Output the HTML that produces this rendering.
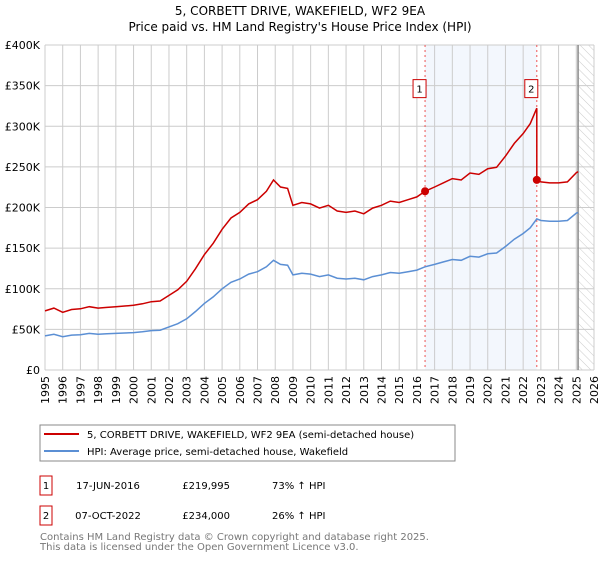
<!DOCTYPE html>
<html><head><meta charset="utf-8"><style>
body{margin:0;background:#fff;font-family:"DejaVu Sans","Liberation Sans",sans-serif;}
svg text{font-family:"DejaVu Sans","Liberation Sans",sans-serif;}
</style></head><body>
<svg width="600" height="560" xmlns="http://www.w3.org/2000/svg" id="chart">
<defs><pattern id="hatch" width="6" height="6" patternUnits="userSpaceOnUse" patternTransform="rotate(-45)"><line x1="0" y1="0" x2="0" y2="6" stroke="#ccc" stroke-width="1"/></pattern></defs>
<text x="300" y="15" text-anchor="middle" font-size="12">5, CORBETT DRIVE, WAKEFIELD, WF2 9EA</text>
<text x="300" y="31" text-anchor="middle" font-size="12">Price paid vs. HM Land Registry's House Price Index (HPI)</text>
<g id="plot"></g>
<g>
<rect x="40" y="425" width="415" height="36" fill="#fff" stroke="#888"/>
<line x1="44" y1="434" x2="79" y2="434" stroke="#cc0000" stroke-width="2"/>
<text x="87" y="438" font-size="10">5, CORBETT DRIVE, WAKEFIELD, WF2 9EA (semi-detached house)</text>
<line x1="44" y1="451" x2="79" y2="451" stroke="#5b8fd4" stroke-width="2"/>
<text x="87" y="455" font-size="10">HPI: Average price, semi-detached house, Wakefield</text>
</g>
<g font-size="10">
<rect x="40" y="476" width="12" height="19" fill="none" stroke="#cc0000"/><text x="46" y="489" text-anchor="middle">1</text>
<text x="108" y="489" text-anchor="middle">17-JUN-2016</text><text x="230" y="489" text-anchor="end">£219,995</text><text x="272" y="489">73% ↑ HPI</text>
<rect x="40" y="506" width="12" height="19" fill="none" stroke="#cc0000"/><text x="46" y="519" text-anchor="middle">2</text>
<text x="108" y="519" text-anchor="middle">07-OCT-2022</text><text x="230" y="519" text-anchor="end">£234,000</text><text x="272" y="519">26% ↑ HPI</text>
</g>
<text x="40" y="540" font-size="10" fill="#777">Contains HM Land Registry data © Crown copyright and database right 2025.</text>
<text x="40" y="550" font-size="10" fill="#777">This data is licensed under the Open Government Licence v3.0.</text>
</svg>
<script>
const hpiYears=[1995,1995.5,1996,1996.5,1997,1997.5,1998,1998.5,1999,1999.5,2000,2000.5,2001,2001.5,2002,2002.5,2003,2003.5,2004,2004.5,2005,2005.5,2006,2006.5,2007,2007.5,2007.9,2008.3,2008.7,2009,2009.5,2010,2010.5,2011,2011.5,2012,2012.5,2013,2013.5,2014,2014.5,2015,2015.5,2016,2016.46,2017,2017.5,2018,2018.5,2019,2019.5,2020,2020.5,2021,2021.5,2022,2022.4,2022.77,2023,2023.5,2024,2024.5,2025,2025.1];
const hpiValues=[42,44,41,43,43.5,45,44,44.5,45,45.5,46,47,48.5,49,53,57,63,72,82,90,100,108,112,118,121,127,135,130,129,117,119,118,115,117,113,112,113,111,115,117,120,119,121,123,127,130,133,136,135,140,139,143,144,152,161,168,175,186,184,183,183,184,193,194];
const years=[1995,1996,1997,1998,1999,2000,2001,2002,2003,2004,2005,2006,2007,2008,2009,2010,2011,2012,2013,2014,2015,2016,2017,2018,2019,2020,2021,2022,2023,2024,2025,2026];
const yTicks=[0,50,100,150,200,250,300,350,400];
const saleDates=[2016.46,2022.77];
const salePrices=[219.995,234];
const saleLabels=["1","2"];
const NS="http://www.w3.org/2000/svg";
const X0=45,X1=594,Y0=370,Y1=45;
const x=v=>X0+(v-1995)/31*(X1-X0);
const y=v=>Y0-v/400*(Y0-Y1);
const g=document.getElementById('plot');
function mk(t,a){const e=document.createElementNS(NS,t);for(const k in a)e.setAttribute(k,a[k]);g.appendChild(e);return e;}
let e=mk('rect',{x:x(saleDates[0]),y:Y1,width:x(saleDates[1])-x(saleDates[0]),height:Y0-Y1,fill:'#eef3fc',opacity:0.7});

e=mk('rect',{x:x(2025.1),y:Y1,width:X1-x(2025.1),height:Y0-Y1,fill:'url(#hatch)'});

years.forEach(v=>{let l=mk('line',{x1:x(v),x2:x(v),y1:Y1,y2:Y0,stroke:'#ccc'});

let t=mk('text',{x:0,y:0,'font-size':11,'text-anchor':'end',transform:`translate(${x(v)+4},${Y0+6}) rotate(-90)`});t.textContent=v;
});
yTicks.forEach(v=>{let l=mk('line',{x1:X0,x2:X1,y1:y(v),y2:y(v),stroke:'#ccc'});

let t=mk('text',{x:X0-5,y:y(v)+4,'font-size':11,'text-anchor':'end'});t.textContent=v===0?'£0':'£'+v+'K';
});
e=mk('line',{x1:x(2025.1),x2:x(2025.1),y1:Y1,y2:Y0,stroke:'#888','stroke-width':1.5});

saleDates.forEach((d,i)=>{let l=mk('line',{x1:x(d),x2:x(d),y1:Y1,y2:Y0,stroke:'#e55','stroke-dasharray':'2,3'});
});
// HPI line
let hp=hpiYears.map((yr,i)=>x(yr).toFixed(1)+','+y(hpiValues[i]).toFixed(1)).join(' ');
e=mk('polyline',{points:hp,fill:'none',stroke:'#5b8fd4','stroke-width':1.5});

// price line: indexed HPI scaled to each sale
function hpiAt(d){for(let i=1;i<hpiYears.length;i++){if(d<=hpiYears[i]){const f=(d-hpiYears[i-1])/(hpiYears[i]-hpiYears[i-1]);return hpiValues[i-1]+f*(hpiValues[i]-hpiValues[i-1]);}}return hpiValues[hpiValues.length-1];}
const r1=salePrices[0]/hpiAt(saleDates[0]),r2=salePrices[1]/hpiAt(saleDates[1]);
let pts=[];
hpiYears.forEach((yr,i)=>{if(yr<=saleDates[1])pts.push([yr,hpiValues[i]*r1]);});
pts.push([saleDates[1],salePrices[1]]);
hpiYears.forEach((yr,i)=>{if(yr>saleDates[1])pts.push([yr,hpiValues[i]*r2]);});
e=mk('polyline',{points:pts.map(p=>x(p[0]).toFixed(1)+','+y(p[1]).toFixed(1)).join(' '),fill:'none',stroke:'#cc0000','stroke-width':1.5});

saleDates.forEach((d,i)=>{let c=mk('circle',{cx:x(d),cy:y(salePrices[i]),r:4,fill:'#cc0000'});

let b=mk('rect',{x:x(d)-12,y:y(350)-6,width:13,height:18,fill:'#fff',stroke:'#cc0000'});

let t=mk('text',{x:x(d)-5.5,y:y(350)+7,'font-size':10,'text-anchor':'middle'});t.textContent=saleLabels[i];
});
</script>
</body></html>
